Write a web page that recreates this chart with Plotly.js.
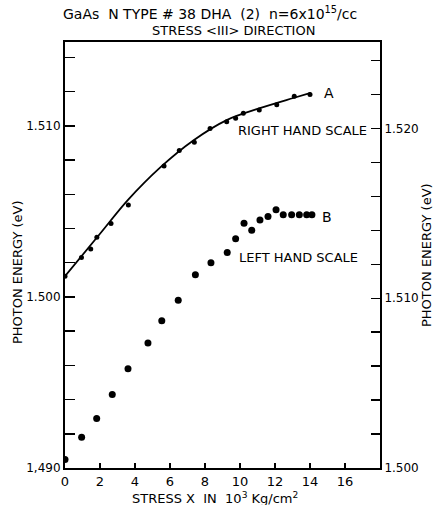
<!DOCTYPE html>
<html><head><meta charset="utf-8">
<script src="https://cdn.plot.ly/plotly-3.0.1.min.js"></script>
<style>html,body{margin:0;padding:0;background:#fff}#chart{width:433px;height:505px}</style>
</head><body><div id="chart"></div>
<script>
// Curve A (right hand scale)
const stressA = [0.0, 0.94, 1.47, 1.82, 2.63, 3.62, 5.66, 6.53, 7.39, 8.29, 9.24, 9.75, 10.19, 11.10, 12.10, 13.10, 14.00];
const energyA = [1.5113, 1.5124, 1.5129, 1.5136, 1.5144, 1.5155, 1.5178, 1.5187, 1.5192, 1.5200, 1.5204, 1.5206, 1.5209, 1.5211, 1.5214, 1.5219, 1.5220];
// Fitted line through A
const fitStressA = [0, 2.0, 3.6, 5.43, 7.33, 9.24, 11.14, 13.05, 14.04];
const fitEnergyA = [1.5113, 1.5138, 1.5158, 1.5177, 1.5193, 1.5205, 1.5212, 1.5218, 1.5221];
// Curve B (left hand scale)
const stressB = [0.0, 0.95, 1.81, 2.70, 3.60, 4.74, 5.53, 6.47, 7.45, 8.34, 9.27, 9.75, 10.23, 10.67, 11.14, 11.60, 12.06, 12.47, 12.95, 13.39, 13.81, 14.11];
const energyB = [1.4905, 1.4918, 1.4929, 1.4943, 1.4958, 1.4973, 1.4986, 1.4998, 1.5013, 1.5020, 1.5026, 1.5034, 1.5043, 1.5039, 1.5045, 1.5047, 1.5051, 1.5048, 1.5048, 1.5048, 1.5048, 1.5048];
// Tick labels
const xTickVals = [0, 2, 4, 6, 8, 10, 12, 14, 16];
const xTickText = ["0", "2", "4", "6", "8", "10", "12", "14", "16"];
const leftTickVals = [1.490, 1.500, 1.510];
const leftTickText = ["1,490", "1.500", "1.510"];
const rightTickVals = [1.500, 1.510, 1.520];
const rightTickText = ["1.500", "1.510", "1.520"];

const FONT = "DejaVu Sans, Liberation Sans, sans-serif";
const traces = [
  {x: fitStressA, y: fitEnergyA, yaxis: 'y2', mode: 'lines', line: {color: '#000', width: 1.8, shape: 'spline', smoothing: 1}, hoverinfo: 'skip'},
  {x: stressA, y: energyA, yaxis: 'y2', mode: 'markers', marker: {color: '#000', size: 5}},
  {x: stressB, y: energyB, mode: 'markers', marker: {color: '#000', size: 7}}
];
const layout = {
  width: 433, height: 505,
  margin: {l: 65, r: 53, t: 42, b: 37},
  paper_bgcolor: '#fff', plot_bgcolor: '#fff',
  showlegend: false,
  font: {family: FONT, color: '#000', size: 12},
  xaxis: {range: [0, 18], tickvals: xTickVals, ticktext: xTickText, ticks: 'inside', ticklen: 5, tickwidth: 1.5, tickcolor: '#000',
    showline: true, linecolor: '#000', linewidth: 2, mirror: true, showgrid: false, zeroline: false,
    tickfont: {family: FONT, size: 13}},
  yaxis: {range: [1.490, 1.5149], tickvals: leftTickVals, ticktext: leftTickText, ticks: 'inside', ticklen: 10, tickwidth: 1.5, tickcolor: '#000',
    minor: {tick0: 1.490, dtick: 0.002, ticks: 'inside', ticklen: 10, tickwidth: 1.5, tickcolor: '#000', showgrid: false},
    showline: true, linecolor: '#000', linewidth: 2, showgrid: false, zeroline: false,
    tickfont: {family: FONT, size: 12}},
  yaxis2: {range: [1.500, 1.5251], overlaying: 'y', side: 'right', tickvals: rightTickVals, ticktext: rightTickText, ticks: 'inside', ticklen: 9, tickwidth: 1.5, tickcolor: '#000',
    minor: {tick0: 1.500, dtick: 0.002, ticks: 'inside', ticklen: 9, tickwidth: 1.5, tickcolor: '#000', showgrid: false},
    showline: true, linecolor: '#000', linewidth: 2, showgrid: false, zeroline: false,
    tickfont: {family: FONT, size: 12}},
  annotations: [
    {text: 'GaAs  N TYPE # 38 DHA  (2)  n=6x10<sup>15</sup>/cc', xref: 'paper', yref: 'paper', x: 0.46, y: 1.0, yshift: 29, xanchor: 'center', yanchor: 'middle', showarrow: false, font: {family: FONT, size: 14}},
    {text: 'STRESS &lt;III&gt; DIRECTION', xref: 'paper', yref: 'paper', x: 0.535, y: 1.0, yshift: 12, xanchor: 'center', yanchor: 'middle', showarrow: false, font: {family: FONT, size: 13}},
    {text: 'STRESS X  IN  10<sup>3</sup> Kg/cm<sup>2</sup>', xref: 'paper', yref: 'paper', x: 0.476, y: 0, yshift: -30, xanchor: 'center', yanchor: 'middle', showarrow: false, font: {family: FONT, size: 13}},
    {text: 'PHOTON ENERGY (eV)', textangle: -90, xref: 'paper', yref: 'paper', x: 0, xshift: -48, y: 0.46, xanchor: 'center', yanchor: 'middle', showarrow: false, font: {family: FONT, size: 13}},
    {text: 'PHOTON ENERGY (eV)', textangle: -90, xref: 'paper', yref: 'paper', x: 1, xshift: 46, y: 0.5, xanchor: 'center', yanchor: 'middle', showarrow: false, font: {family: FONT, size: 13}},
    {text: 'A', x: 15.1, y: 1.5221, yref: 'y2', xanchor: 'center', yanchor: 'middle', showarrow: false, font: {family: FONT, size: 14}},
    {text: 'RIGHT HAND SCALE', x: 17.35, y: 1.5199, yref: 'y2', xanchor: 'right', yanchor: 'middle', showarrow: false, font: {family: FONT, size: 13}},
    {text: 'B', x: 14.95, y: 1.5047, yref: 'y', xanchor: 'center', yanchor: 'middle', showarrow: false, font: {family: FONT, size: 14}},
    {text: 'LEFT HAND SCALE', x: 9.8, y: 1.5023, yref: 'y', xanchor: 'left', yanchor: 'middle', showarrow: false, font: {family: FONT, size: 13}}
  ]
};
Plotly.newPlot('chart', traces, layout, {displayModeBar: false, staticPlot: true});
</script></body></html>
